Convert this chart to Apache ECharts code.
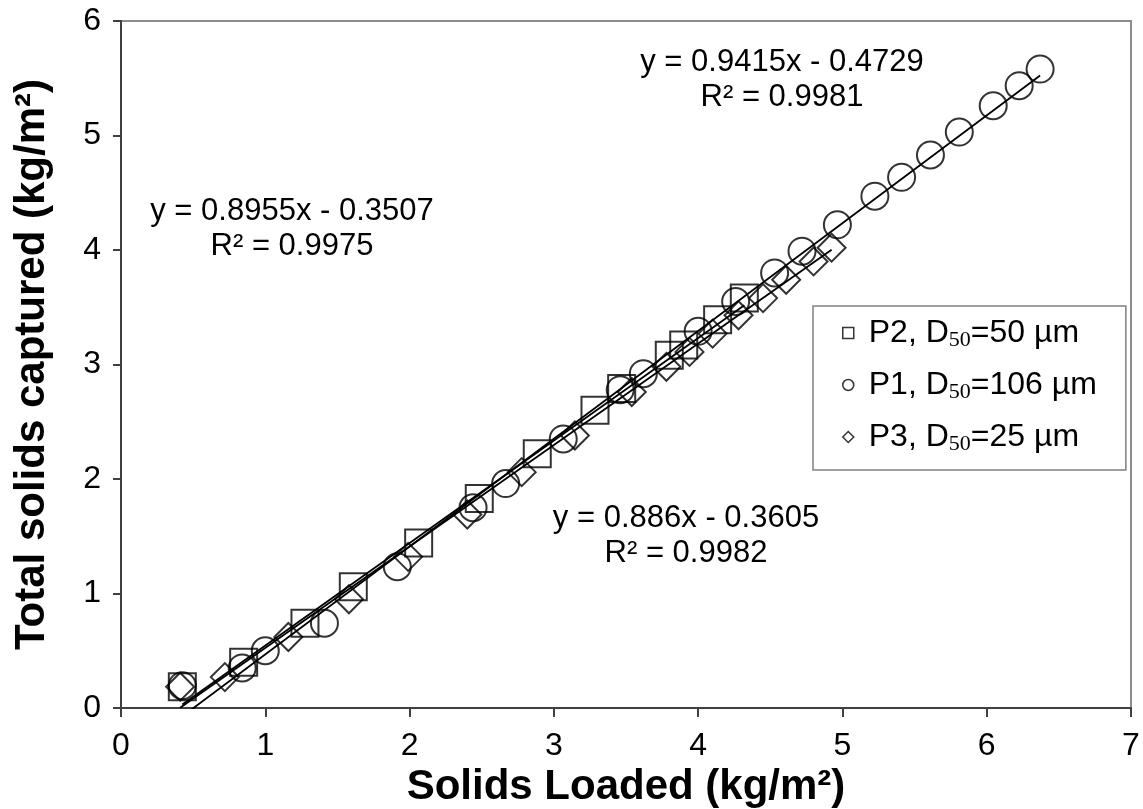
<!DOCTYPE html>
<html><head><meta charset="utf-8">
<script src="https://cdn.jsdelivr.net/npm/echarts@6/dist/echarts.min.js"></script>
<style>html,body{margin:0;padding:0;background:#fff}#c{width:1143px;height:809px}</style>
</head><body><div id="c"></div>
<script>
// Data
const seriesNames = ['P1', 'P2', 'P3'];
const d50Values = [106, 50, 25];
const p1X = [0.425, 0.84, 1.00, 1.41, 1.915, 2.44, 2.666, 3.065, 3.46, 3.62, 4.00, 4.26, 4.53, 4.72, 4.965, 5.225, 5.41, 5.61, 5.81, 6.045, 6.225, 6.37];
const p1Y = [0.195, 0.35, 0.50, 0.74, 1.234, 1.75, 1.96, 2.35, 2.78, 2.92, 3.29, 3.55, 3.80, 3.99, 4.22, 4.47, 4.635, 4.83, 5.03, 5.26, 5.435, 5.58];
const p2X = [0.425, 0.85, 1.275, 1.61, 2.063, 2.483, 2.885, 3.285, 3.47, 3.80, 3.90, 4.135, 4.32];
const p2Y = [0.186, 0.40, 0.74, 1.06, 1.44, 1.83, 2.22, 2.60, 2.79, 3.08, 3.17, 3.39, 3.58];
const p3X = [0.41, 0.72, 1.16, 1.58, 1.99, 2.40, 2.777, 3.146, 3.54, 3.78, 3.94, 4.10, 4.28, 4.45, 4.61, 4.80, 4.925];
const p3Y = [0.186, 0.27, 0.62, 0.95, 1.32, 1.69, 2.06, 2.38, 2.76, 2.98, 3.11, 3.27, 3.43, 3.58, 3.74, 3.90, 4.02];
const trendSlope = [0.9415, 0.8955, 0.886];
const trendIntercept = [-0.4729, -0.3507, -0.3605];
const eqTexts = ['y = 0.9415x - 0.4729', 'y = 0.8955x - 0.3507', 'y = 0.886x - 0.3605'];
const r2Texts = ['R² = 0.9981', 'R² = 0.9975', 'R² = 0.9982'];
const xAxisTitle = 'Solids Loaded (kg/m²)';
const yAxisTitle = 'Total solids captured (kg/m²)';

const FONT = "'Liberation Sans', Arial, sans-serif";
const xs = [p1X, p2X, p3X];
const ys = [p1Y, p2Y, p3Y];
const symbols = ['circle', 'rect', 'diamond'];
const symSizes = [27, 27, 28];

const series = [];
for (let i = 0; i < 3; i++) {
  const x0 = Math.min(...xs[i]), x1 = Math.max(...xs[i]);
  series.push({
    type: 'line', name: 'trend' + i, silent: true, clip: true, symbol: 'none',
    lineStyle: { color: '#000', width: 1.8 },
    data: [[x0, trendSlope[i] * x0 + trendIntercept[i]], [x1, trendSlope[i] * x1 + trendIntercept[i]]],
    z: 2
  });
}
for (let i = 0; i < 3; i++) {
  series.push({
    type: 'scatter', name: seriesNames[i], symbol: symbols[i], symbolSize: symSizes[i],
    itemStyle: { color: 'rgba(0,0,0,0)', borderColor: '#000', borderWidth: 2 },
    data: xs[i].map((x, k) => [x, ys[i][k]]),
    z: 3
  });
}

const eqFont = '31px ' + FONT;
function eqText(x, y, t) {
  return { type: 'text', x: x, y: y, style: { text: t, font: eqFont, fill: '#000', textAlign: 'center', textVerticalAlign: 'middle' } };
}

const chart = echarts.init(document.getElementById('c'), null, { renderer: 'canvas' });
const legendOrder = [1, 0, 2];
chart.setOption({
  animation: false,
  backgroundColor: '#fff',
  grid: { left: 121, right: 12, top: 21, bottom: 101, show: true, borderColor: '#8c8c8c', borderWidth: 2, containLabel: false, outerBoundsMode: 'none' },
  xAxis: {
    type: 'value', min: 0, max: 7, interval: 1,
    name: xAxisTitle, nameLocation: 'middle', nameGap: 48,
    nameTextStyle: { fontFamily: FONT, fontSize: 42, fontWeight: 'bold', color: '#000' },
    axisLine: { show: true, lineStyle: { color: '#404040', width: 2 } },
    axisTick: { show: true, inside: false, length: 9, lineStyle: { color: '#404040', width: 2 } },
    axisLabel: { fontFamily: FONT, fontSize: 32, color: '#000', margin: 22 },
    splitLine: { show: false }
  },
  yAxis: {
    type: 'value', min: 0, max: 6, interval: 1,
    name: yAxisTitle, nameLocation: 'middle', nameGap: 68,
    nameTextStyle: { fontFamily: FONT, fontSize: 42, fontWeight: 'bold', color: '#000' },
    axisLine: { show: true, lineStyle: { color: '#404040', width: 2 } },
    axisTick: { show: true, inside: false, length: 8, lineStyle: { color: '#404040', width: 2 } },
    axisLabel: { fontFamily: FONT, fontSize: 32, color: '#000', margin: 20 },
    splitLine: { show: false }
  },
  legend: {
    orient: 'vertical', left: 813, top: 306,
    padding: [8, 29, 14, 29], itemGap: 14, itemWidth: 11, itemHeight: 11,
    borderColor: '#808080', borderWidth: 1.5, backgroundColor: '#fff',
    data: legendOrder.map(i => ({
      name: seriesNames[i], icon: symbols[i],
      itemStyle: { color: 'rgba(0,0,0,0)', borderColor: '#000', borderWidth: 1.5 }
    })),
    formatter: function (name) {
      const i = seriesNames.indexOf(name);
      return '{g|}{t|' + name + ', D}{s|50}{t|=' + d50Values[i] + ' µm}';
    },
    textStyle: {
      fontFamily: FONT, fontSize: 32, color: '#000', lineHeight: 38,
      rich: {
        g: { width: 10, lineHeight: 38 },
        t: { fontFamily: FONT, fontSize: 32, color: '#000', lineHeight: 38 },
        s: { fontFamily: "'Liberation Serif', 'DejaVu Serif', serif", fontSize: 22, color: '#000', lineHeight: 38, padding: [15, 0, 0, 0] }
      }
    }
  },
  graphic: [
    eqText(782, 62, eqTexts[0]), eqText(782, 97, r2Texts[0]),
    eqText(292, 211, eqTexts[1]), eqText(292, 246, r2Texts[1]),
    eqText(686, 518, eqTexts[2]), eqText(686, 553, r2Texts[2])
  ],
  series: series
});
</script></body></html>
